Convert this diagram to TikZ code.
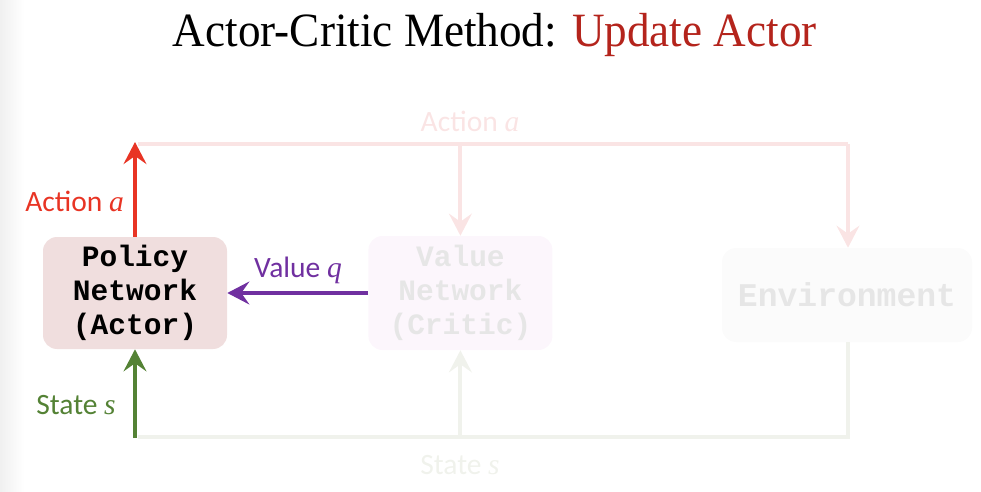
\documentclass[tikz,border=0pt]{standalone}
\usepackage{fontspec}
\setmainfont{Liberation Serif}
\setsansfont{Carlito}
\setmonofont{Liberation Mono}
\newfontfamily\titlefont[FakeStretch=0.945]{Liberation Serif}
\usetikzlibrary{arrows.meta}

\definecolor{titlered}{RGB}{180,36,28}
\definecolor{actred}{RGB}{232,52,36}
\definecolor{valpurple}{RGB}{112,48,160}
\definecolor{stgreen}{RGB}{84,130,53}
\definecolor{policyfill}{RGB}{240,222,222}
\definecolor{valuefill}{RGB}{252,246,252}
\definecolor{envfill}{RGB}{251,251,251}
\definecolor{fadetext}{RGB}{230,230,230}
\definecolor{fadered}{RGB}{250,228,228}
\definecolor{fadegreen}{RGB}{240,242,236}

\newcommand{\mvar}[1]{{\rmfamily\itshape #1}}

\tikzset{
    netbox/.style={rounded corners=0.35cm, align=center, inner sep=0pt,
        font=\ttfamily\bfseries\fontsize{21}{24}\selectfont},
    flow/.style={line width=0.1cm, -{Stealth[length=5.5mm, width=5.7mm, inset=2mm]}},
    lbl/.style={font=\sffamily\fontsize{21}{24}\selectfont}
}

\begin{document}
\begin{tikzpicture}
    \useasboundingbox (0, 0) rectangle (24.525, -12.3);
    \shade[left color=black!6, right color=white] (0, 0) rectangle (0.6, -12.3);

    % Title
    \node (title) at (12.37, -0.88) {\titlefont\fontsize{34}{40}\selectfont Actor-Critic Method: \textcolor{titlered}{Update Actor}};

    % Boxes
    \node[netbox, fill=policyfill, minimum width=4.6cm, minimum height=2.8cm] (policy) at (3.375, -7.325) {Policy\\Network\\(Actor)};
    \node[netbox, fill=valuefill, text=fadetext, minimum width=4.6cm, minimum height=2.85cm] (value) at (11.51, -7.325) {Value\\Network\\(Critic)};
    \node[netbox, fill=envfill, text=fadetext, minimum width=6.25cm, minimum height=2.35cm,
        font=\ttfamily\bfseries\fontsize{23.5}{26}\selectfont] (env) at (21.175, -7.375) {Environment};

    % Action a (top loop)
    \coordinate (atop) at (3.375, -3.55);
    \coordinate (aleft) at (3.45, -3.6);
    \coordinate (aval) at (11.51, -3.6);
    \coordinate (aright) at (21.2, -3.6);
    \draw[fadered, line width=0.1cm] (aleft) -- (aright);
    \draw[fadered, flow] (aval) -- (value.north);
    \draw[fadered, flow] (aright) -- (aright |- env.north);
    \draw[actred, flow] (policy.north) -- (atop);
    \node[lbl, actred, anchor=east] (alab) at (3.22, -5.03) {Action \mvar{a}};
    \node[lbl, fadered] (atoplab) at (11.75, -3.03) {Action \mvar{a}};

    % Value q
    \draw[valpurple, flow] (value.west) -- (policy.east);
    \node[lbl, valpurple] (qlab) at (7.45, -6.75) {Value \mvar{q}};

    % State s (bottom loop)
    \coordinate (sbot) at (3.375, -10.95);
    \coordinate (sleft) at (3.45, -10.925);
    \coordinate (sval) at (11.51, -10.925);
    \coordinate (sright) at (21.2, -10.925);
    \draw[fadegreen, line width=0.1cm] (sleft) -- (sright) -- (sright |- env.south);
    \draw[fadegreen, flow] (sval) -- (value.south);
    \draw[stgreen, flow] (sbot) -- (policy.south);
    \node[lbl, stgreen] (slab) at (1.9, -10.12) {State \mvar{s}};
    \node[lbl, fadegreen] (sbotlab) at (11.5, -11.62) {State \mvar{s}};
\end{tikzpicture}
\end{document}
